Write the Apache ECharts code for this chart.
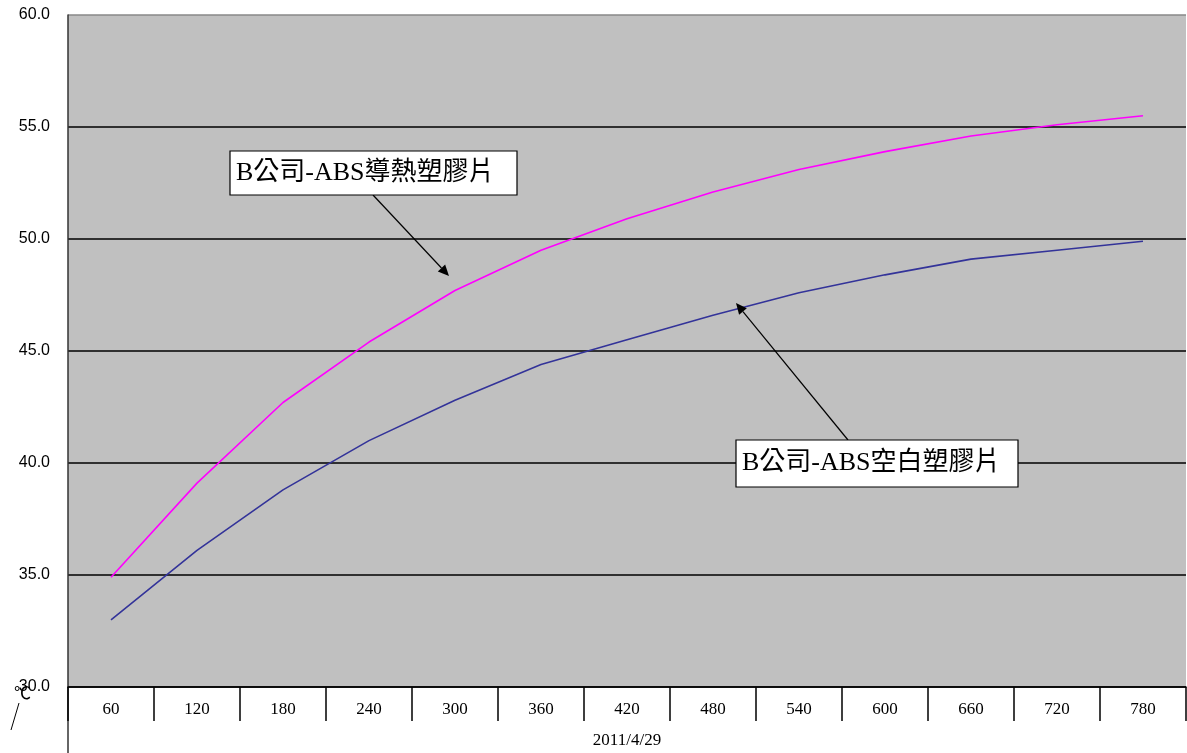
<!DOCTYPE html>
<html>
<head>
<meta charset="utf-8">
<script src="https://cdn.jsdelivr.net/npm/echarts@6/dist/echarts.min.js"></script>
<style>
  html, body { margin: 0; padding: 0; background: #fff; }
  #chart { width: 1187px; height: 753px; }
</style>
</head>
<body>
<div id="chart"></div>
<script>
// Elapsed time (sec) of the heating test, 2011/4/29
const categories = ['60', '120', '180', '240', '300', '360', '420', '480', '540', '600', '660', '720', '780'];
// Surface temperature (°C)
const conductiveSheet = [34.9, 39.1, 42.7, 45.4, 47.7, 49.5, 50.9, 52.1, 53.1, 53.9, 54.6, 55.1, 55.5];
const blankSheet      = [33.0, 36.1, 38.8, 41.0, 42.8, 44.4, 45.5, 46.6, 47.6, 48.4, 49.1, 49.5, 49.9];
const seriesNames = ['B公司-ABS導熱塑膠片', 'B公司-ABS空白塑膠片'];
const dateLabel = '2011/4/29';
const unitLabel = '℃';

const serif = '"Liberation Serif", "Times New Roman", "Noto Sans CJK TC", serif';
const sans = '"Liberation Sans", Arial, sans-serif';

const chart = echarts.init(document.getElementById('chart'), null, { renderer: 'canvas' });

// callout: a white labelled box with an arrow pointing at a curve
function callout(box, text, from, to) {
  const ang = Math.atan2(to[1] - from[1], to[0] - from[0]);
  const L = 11, W = 5;
  const bx = to[0] - L * Math.cos(ang), by = to[1] - L * Math.sin(ang);
  const px = -Math.sin(ang) * W, py = Math.cos(ang) * W;
  return [
    {
      type: 'line', z: 10,
      shape: { x1: from[0], y1: from[1], x2: bx, y2: by },
      style: { stroke: '#000', lineWidth: 1.2 }
    },
    {
      type: 'polygon', z: 10,
      shape: { points: [to, [bx + px, by + py], [bx - px, by - py]] },
      style: { fill: '#000' }
    },
    {
      type: 'rect', z: 11,
      shape: { x: box[0], y: box[1], width: box[2], height: box[3] },
      style: { fill: '#fff', stroke: '#000', lineWidth: 1.2 }
    },
    {
      type: 'text', z: 12,
      x: box[0] + 6, y: box[1] + box[3] / 2,
      style: { text: text, font: '26px ' + serif, fill: '#000', verticalAlign: 'middle' }
    }
  ];
}

const option = {
  backgroundColor: '#fff',
  animation: false,
  grid: {
    left: 68, top: 15, width: 1118, height: 672,
    outerBoundsMode: 'none',
    containLabel: false,
    show: true, backgroundColor: '#c0c0c0', borderWidth: 0
  },
  xAxis: {
    type: 'category',
    data: categories,
    boundaryGap: true,
    name: dateLabel,
    nameLocation: 'middle',
    nameGap: 45,
    nameTextStyle: { fontFamily: serif, fontSize: 17, color: '#000' },
    axisLine: { show: true, lineStyle: { color: '#000', width: 1.5 } },
    axisTick: { show: true, length: 34, lineStyle: { color: '#000', width: 1.5 } },
    axisLabel: { fontFamily: serif, fontSize: 17, color: '#000', margin: 14 },
    splitLine: { show: false }
  },
  yAxis: {
    type: 'value',
    min: 30, max: 60, interval: 5,
    axisLine: { show: true, lineStyle: { color: '#333', width: 1.5 } },
    axisTick: { show: false },
    axisLabel: {
      fontFamily: sans, fontSize: 16, color: '#000', margin: 18,
      formatter: v => v.toFixed(1)
    },
    splitLine: {
      show: true,
      lineStyle: { color: ['#000', '#000', '#000', '#000', '#000', '#000', '#888'], width: 1.5 }
    }
  },
  series: [
    {
      name: seriesNames[0], type: 'line', data: conductiveSheet,
      symbol: 'none', smooth: false,
      lineStyle: { color: '#ff00ff', width: 1.6 }, z: 3
    },
    {
      name: seriesNames[1], type: 'line', data: blankSheet,
      symbol: 'none', smooth: false,
      lineStyle: { color: '#333399', width: 1.6 }, z: 3
    }
  ],
  graphic: [
    // y axis line runs on past the category band
    { type: 'line', shape: { x1: 68, y1: 687, x2: 68, y2: 753 }, style: { stroke: '#333', lineWidth: 1.5 } },
    // temperature unit near the axis foot
    { type: 'text', x: 14, y: 686, style: { text: unitLabel, font: '17px ' + serif, fill: '#000' } },
    { type: 'line', shape: { x1: 11, y1: 730, x2: 19, y2: 703 }, style: { stroke: '#000', lineWidth: 1 } },
    ...callout([230, 151, 287, 44], seriesNames[0], [373, 195], [449, 276]),
    ...callout([736, 440, 282, 47], seriesNames[1], [848, 440], [736, 303])
  ]
};

chart.setOption(option);
</script>
</body>
</html>
